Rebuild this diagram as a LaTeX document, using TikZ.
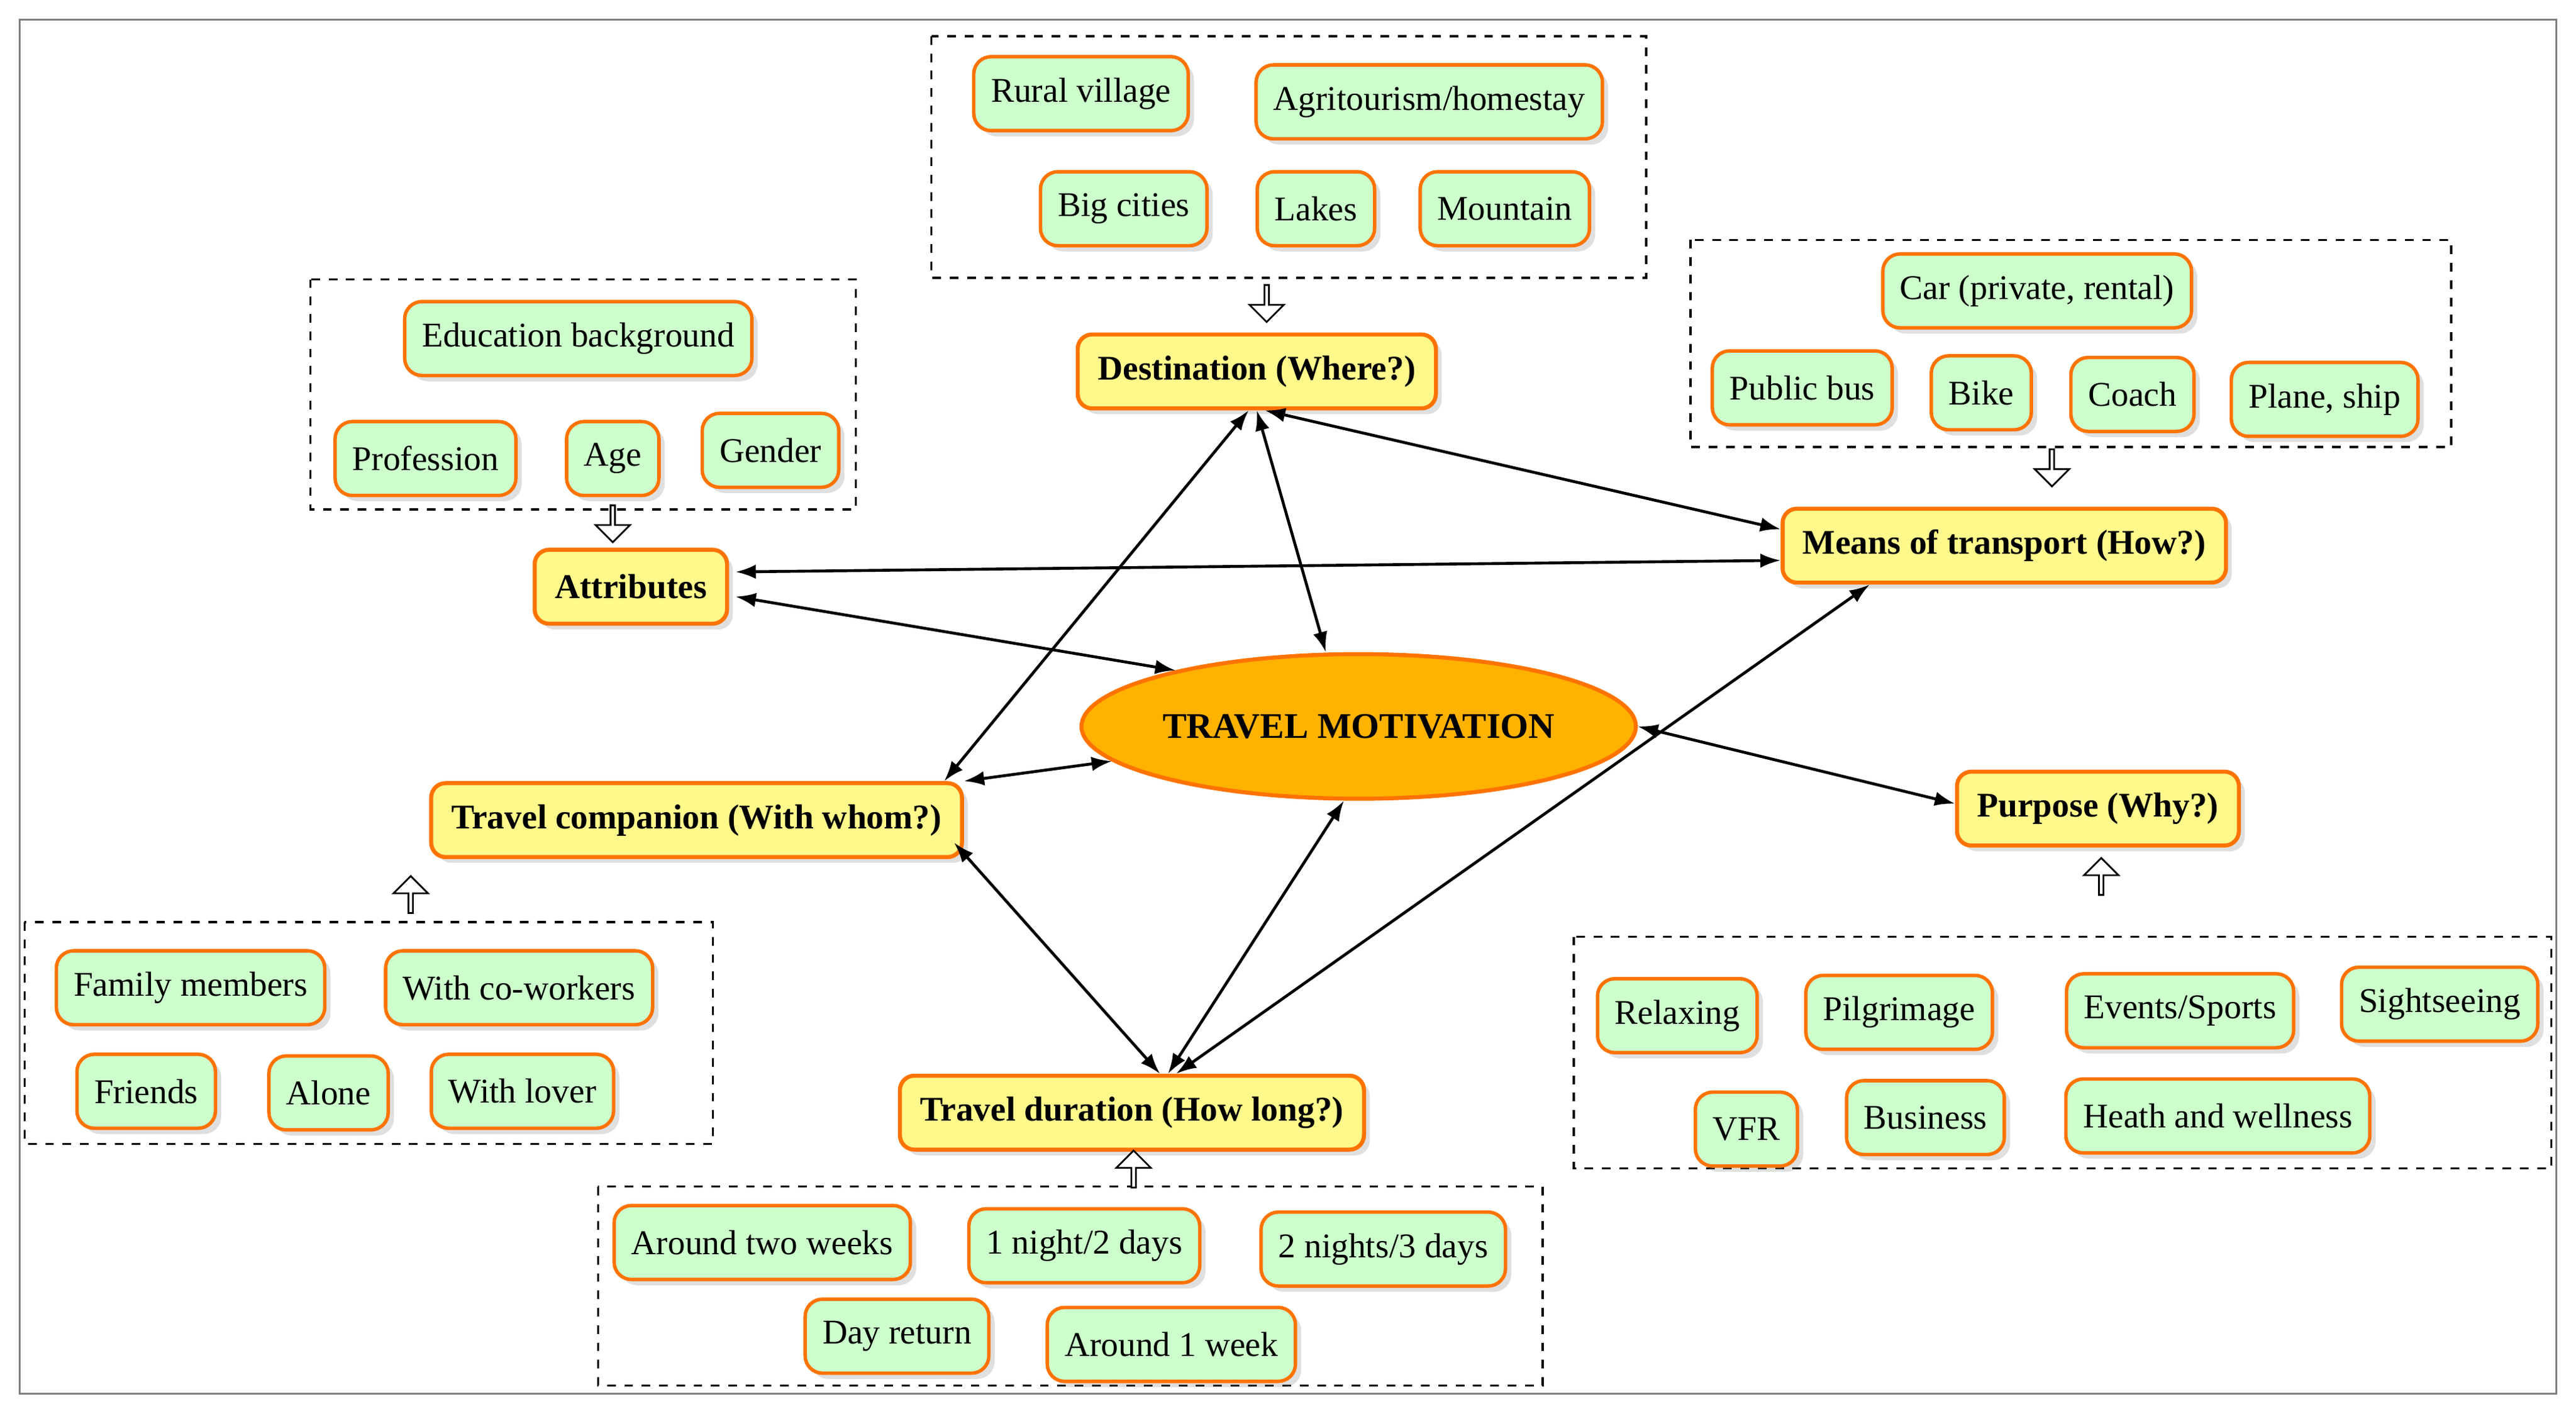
\documentclass[tikz,border=0pt]{standalone}
\usepackage{fontspec}
\setmainfont{Liberation Serif}
\usetikzlibrary{shapes.geometric,shapes.arrows,calc,shadows,arrows.meta}
\begin{document}
\begin{tikzpicture}[x=0.02cm,y=-0.02cm,
 g/.style={draw=orange!90!red,line width=1.2pt,fill=green!20,rounded corners=6pt,minimum height=0.9cm,inner xsep=6pt,font=\fontsize{12}{14}\selectfont,drop shadow={opacity=0.25,shadow xshift=2pt,shadow yshift=-2pt}},
 yb/.style={draw=orange!90!red,line width=1.4pt,fill=yellow!45,rounded corners=5pt,minimum height=0.9cm,inner xsep=7pt,font=\fontsize{12}{14}\selectfont\bfseries,drop shadow={opacity=0.25,shadow xshift=2pt,shadow yshift=-2pt}},
 box/.style={draw,dashed,line width=0.7pt},
 ha/.style={single arrow,draw,fill=white,line width=0.6pt,minimum height=0.45cm,minimum width=0.42cm,single arrow head extend=0.07cm,inner sep=0pt},
 dbl/.style={{Latex[length=7pt,width=5pt]}-{Latex[length=7pt,width=5pt]},line width=1pt}]
\useasboundingbox (0,0) rectangle (1568,857);
\draw[gray,line width=0.8pt] (12,12) rectangle (1556,848);
% boxes
\draw[box] (567,22) rectangle (1002,169);
\draw[box] (1029,146) rectangle (1492,272);
\draw[box] (189,170) rectangle (521,310);
\draw[box] (15,561) rectangle (434,696);
\draw[box] (364,722) rectangle (939,843);
\draw[box] (958,570) rectangle (1553,711);
% green
\node[g] (rv) at (658,57) {Rural village};
\node[g] (ag) at (870,62) {Agritourism/homestay};
\node[g] (bc) at (684,127) {Big cities};
\node[g] (lk) at (801,127) {Lakes};
\node[g] (mt) at (916,127) {Mountain};
\node[g] (car) at (1240,177) {Car (private, rental)};
\node[g] (pb) at (1097,236) {Public bus};
\node[g] (bk) at (1206,239) {Bike};
\node[g] (co) at (1298,240) {Coach};
\node[g] (ps) at (1415,243) {Plane, ship};
\node[g] (ed) at (352,206) {Education background};
\node[g] (pr) at (259,279) {Profession};
\node[g] (ag2) at (373,279) {Age};
\node[g] (ge) at (469,274) {Gender};
\node[g] (fm) at (116,601) {Family members};
\node[g] (cw) at (316,601) {With co-workers};
\node[g] (fr) at (89,664) {Friends};
\node[g] (al) at (200,665) {Alone};
\node[g] (wl) at (318,664) {With lover};
\node[g] (tw) at (464,756) {Around two weeks};
\node[g] (n1) at (660,758) {1 night/2 days};
\node[g] (n2) at (842,760) {2 nights/3 days};
\node[g] (dr) at (546,813) {Day return};
\node[g] (w1) at (713,818) {Around 1 week};
\node[g] (rx) at (1021,618) {Relaxing};
\node[g] (pi) at (1156,616) {Pilgrimage};
\node[g] (ev) at (1327,615) {Events/Sports};
\node[g] (si) at (1485,611) {Sightseeing};
\node[g] (vf) at (1063,687) {VFR};
\node[g] (bu) at (1172,680) {Business};
\node[g] (hw) at (1350,679) {Heath and wellness};
% yellow
\node[yb] (dest) at (765,226) {Destination (Where?)};
\node[yb] (means) at (1220,332) {Means of transport (How?)};
\node[yb] (attr) at (384,357) {Attributes};
\node[yb] (comp) at (424,499) {Travel companion (With whom?)};
\node[yb] (purp) at (1277,492) {Purpose (Why?)};
\node[yb] (dur) at (689,677) {Travel duration (How long?)};
\node[ellipse,draw=orange!90!red,line width=1.4pt,fill=orange!60!yellow,minimum width=5.6cm,minimum height=1.76cm,inner sep=0pt,font=\fontsize{12.5}{14}\selectfont\bfseries] (tm) at (827,442) {TRAVEL MOTIVATION};
% hollow arrows
\node[ha,shape border rotate=270] (a1) at (771,184) {};
\node[ha,shape border rotate=270] (a2) at (1249,284) {};
\node[ha,shape border rotate=270] (a3) at (373,318) {};
\node[ha,shape border rotate=110] (a4) at (250,545) {};
\node[ha,shape border rotate=90] (a5) at (1279,534) {};
\node[ha,shape border rotate=90] (a6) at (690,712) {};
% connectors
\draw[dbl] ($(dest.south)+(-5,0)$) -- ($(comp.north east)+(-12,0)$);
\draw[dbl] (dest.south) -- ($(tm.north)+(-20,0)$);
\draw[dbl] ($(dest.south)+(5,0)$) -- ($(means.west)+(0,-10)$);
\draw[dbl] ($(attr.east)+(4,-9)$) -- ($(means.west)+(0,9)$);
\draw[dbl] ($(attr.east)+(4,6)$) -- (tm.163);
\draw[dbl] (tm.188) -- (comp.north east);
\draw[dbl] (tm.east) -- ($(purp.west)+(0,-3)$);
\draw[dbl] ($(comp.south east)+(-6,-10)$) -- ($(dur.north)+(17,0)$);
\draw[dbl] ($(dur.north)+(22,0)$) -- ($(tm.south)+(-9,0)$);
\draw[dbl] ($(dur.north)+(27,0)$) -- ($(means.south)+(-82,0)$);
\end{tikzpicture}
\end{document}
